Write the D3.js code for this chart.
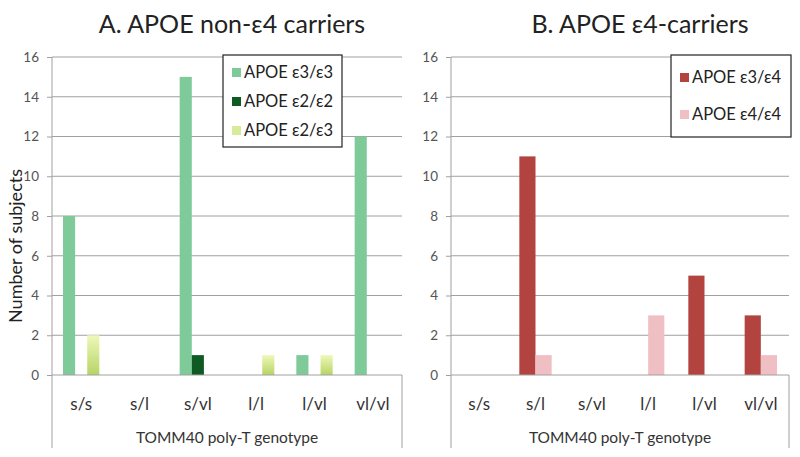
<!DOCTYPE html>
<html><head><meta charset="utf-8">
<script src="https://cdn.jsdelivr.net/npm/d3@7"></script>
<style>body{margin:0;background:#fff}svg{display:block}text{font-family:Lato,"Open Sans",sans-serif}</style>
</head><body>
<svg id="c" width="800" height="457"></svg>
<script>
const categories = ["s/s","s/l","s/vl","l/l","l/vl","vl/vl"];
const yTicks = [0,2,4,6,8,10,12,14,16];
const seriesA = ["APOE ε3/ε3","APOE ε2/ε2","APOE ε2/ε3"];
const a_e3e3 = [8,0,15,0,1,12];
const a_e2e2 = [0,0,1,0,0,0];
const a_e2e3 = [2,0,0,1,1,0];
const seriesB = ["APOE ε3/ε4","APOE ε4/ε4"];
const b_e3e4 = [0,11,0,0,5,3];
const b_e4e4 = [0,1,0,3,0,1];
const colorsA = ["#7fca99","#0e5a22","url(#gYel)"];
const swatchA = ["#7fca99","#0e5a22","#d6ec9a"];
const colorsB = ["#b3433f","#f0bfc3"];

const svg = d3.select("#c");
const defs = svg.append("defs");
const g = defs.append("linearGradient").attr("id","gYel").attr("x1",0).attr("y1",0).attr("x2",0).attr("y2",1);
g.append("stop").attr("offset","0%").attr("stop-color","#eef8b8");
g.append("stop").attr("offset","100%").attr("stop-color","#b7d466");

const y = d3.scaleLinear().domain([0,16]).range([375,57]);

function panel(opts){
  const {x0,x1,title,titleX,series,data,colors,swatches,pad,legend} = opts;
  const x = d3.scaleBand().domain(categories).range([x0,x1]);
  const xs = d3.scaleBand().domain(series.map((d,i)=>i)).range([pad, x.bandwidth()-pad]);
  const root = svg.append("g");
  root.append("g").selectAll("line").data(yTicks.slice(1)).join("line")
    .attr("x1",x0).attr("x2",x1).attr("y1",d=>y(d)).attr("y2",d=>y(d))
    .attr("stroke","#a0a0a0").attr("stroke-width",1);
  const ax = root.append("g").attr("transform",`translate(${x0},0)`)
    .call(d3.axisLeft(y).tickValues(yTicks).tickSize(5).tickPadding(8));
  ax.select(".domain").remove();
  ax.selectAll("line").attr("stroke","#a0a0a0");
  ax.selectAll("text").attr("fill","#555").style("font-size","13.5px").style("font-family","Lato,sans-serif");
  series.forEach((s,i)=>{
    root.append("g").selectAll("rect").data(data[i]).join("rect")
      .attr("x",(d,j)=>x(categories[j])+xs(i)).attr("width",xs.bandwidth())
      .attr("y",d=>y(d)).attr("height",d=>y(0)-y(d)).attr("fill",colors[i]);
  });
  root.append("line").attr("x1",x0).attr("x2",x1).attr("y1",y(0)).attr("y2",y(0)).attr("stroke","#a0a0a0");
  root.append("line").attr("x1",x0).attr("x2",x0).attr("y1",y(16)).attr("y2",448).attr("stroke","#a0a0a0");
  root.append("line").attr("x1",x1).attr("x2",x1).attr("y1",y(0)).attr("y2",448).attr("stroke","#a0a0a0");
  root.append("g").selectAll("text").data(categories).join("text")
    .attr("x",d=>x(d)+x.bandwidth()/2).attr("y",410).attr("text-anchor","middle")
    .attr("fill","#333").style("font-size","17px").text(d=>d);
  root.append("text").attr("x",(x0+x1)/2).attr("y",443).attr("text-anchor","middle")
    .attr("fill","#333").style("font-size","15.5px").text("TOMM40 poly-T genotype");
  root.append("text").attr("x",titleX).attr("y",33).attr("text-anchor","middle")
    .attr("fill","#222").style("font-size","25px").text(title);
  const L = root.append("g");
  L.append("rect").attr("x",legend.x).attr("y",legend.y).attr("width",legend.w).attr("height",legend.h)
    .attr("fill","#fff").attr("stroke","#222").attr("stroke-width",1.2);
  series.forEach((s,i)=>{
    const cy = legend.y + legend.first + i*legend.step;
    L.append("rect").attr("x",legend.x+9).attr("y",cy-9).attr("width",9).attr("height",9).attr("fill",swatches[i]);
    L.append("text").attr("x",legend.x+21).attr("y",cy+1).attr("fill","#222").style("font-size","16.5px").text(s);
  });
}

panel({x0:52,x1:402,title:"A. APOE non-ε4 carriers",titleX:232,series:seriesA,data:[a_e3e3,a_e2e2,a_e2e3],
  colors:colorsA,swatches:swatchA,pad:11,legend:{x:223,y:55,w:119,h:92,first:22,step:29}});
panel({x0:451,x1:789,title:"B. APOE ε4-carriers",titleX:640,series:seriesB,data:[b_e3e4,b_e4e4],
  colors:colorsB,swatches:colorsB,pad:12,legend:{x:671,y:55,w:120,h:82,first:27,step:37}});

svg.append("text").attr("transform","translate(22,246) rotate(-90)").attr("text-anchor","middle")
  .attr("fill","#222").style("font-size","18px").text("Number of subjects");
</script>
</body></html>
